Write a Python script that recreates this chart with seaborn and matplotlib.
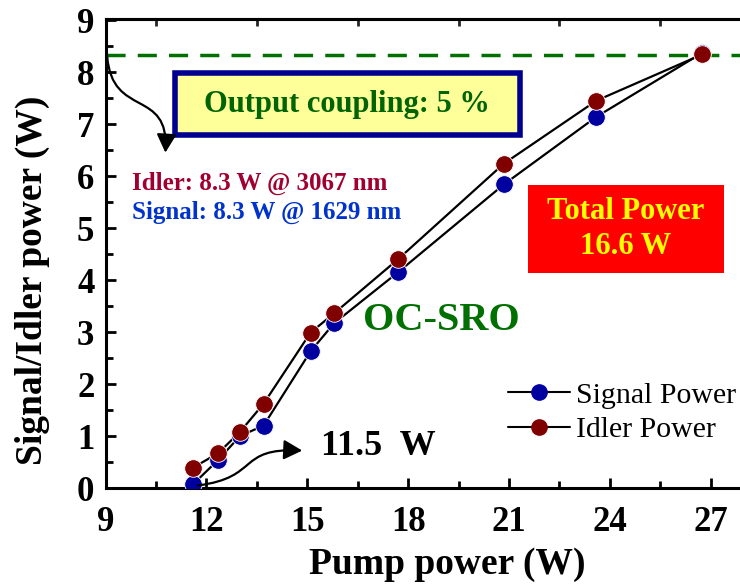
import matplotlib
matplotlib.use("Agg")
import matplotlib.pyplot as plt
import seaborn as sns
import pandas as pd
from matplotlib.lines import Line2D
from matplotlib.patches import Rectangle, FancyArrowPatch
from matplotlib.path import Path

pump = [11.6, 12.35, 13.0, 13.7, 15.1, 15.8, 17.7, 20.85, 23.6, 26.75]
signal = [0.07, 0.54, 1.0, 1.2, 2.63, 3.17, 4.15, 5.84, 7.14, 8.37]
idler = [0.39, 0.67, 1.08, 1.62, 2.99, 3.36, 4.40, 6.24, 7.45, 8.34]
series_names = ["Signal Power", "Idler Power"]
x_ticks = [9, 12, 15, 18, 21, 24, 27]
y_ticks = [0, 1, 2, 3, 4, 5, 6, 7, 8, 9]
coupling_level = 8.33

sns.set_theme(style="ticks")
plt.rcParams['font.family'] = ['Liberation Serif', 'DejaVu Serif']
plt.rcParams['text.color'] = 'black'

df = pd.DataFrame({
    "pump": pump + pump,
    "power": signal + idler,
    "series": [series_names[0]] * len(pump) + [series_names[1]] * len(pump),
})

fig = plt.figure(figsize=(7.4, 5.85), dpi=100)
ax = fig.add_axes([0.1426, 0.1658, 0.8574, 0.8017])

blue = "#0000a0"
red = "#800000"

sns.lineplot(data=df, x="pump", y="power", hue="series", palette=["black", "black"],
             ax=ax, legend=False, linewidth=1.6, sort=False)
for vals, col in [(signal, blue), (idler, red)]:
    sns.scatterplot(x=pump, y=vals, ax=ax, color=col, s=160, edgecolor="white",
                    linewidth=0.6, zorder=5)

ax.axhline(coupling_level, color="#007000", lw=2.5, ls=(0, (5.5, 3.5)), zorder=1)

ax.set_xlim(9, 27.87)
ax.set_ylim(0, 9.02)
ax.set_xticks(x_ticks)
ax.set_yticks(y_ticks)
ax.set_xticks([x + 1.5 for x in x_ticks[:-1]], minor=True)
ax.set_yticks([y + 0.5 for y in y_ticks[:-1]], minor=True)
ax.tick_params(which="both", direction="in", width=2, colors="black",
               labelsize=25, pad=8)
ax.tick_params(axis="x", which="major", pad=13)
ax.tick_params(which="major", length=7)
ax.tick_params(which="minor", length=5)
for lab in ax.get_xticklabels() + ax.get_yticklabels():
    lab.set_fontweight("bold")
for s in ["left", "bottom", "top"]:
    ax.spines[s].set_linewidth(2.2)
    ax.spines[s].set_color("black")
ax.spines["right"].set_visible(False)

sec = ax.secondary_xaxis("top")
sec.set_xticks([10.5, 13.5, 16.5, 19.5, 22.5, 25.5])
sec.tick_params(direction="in", length=5, width=2, labeltop=False)
sec.spines["top"].set_linewidth(2.2)

ax.set_xlabel("Pump power (W)", fontsize=27, fontweight="bold", color="black")
ax.xaxis.set_label_coords(0.538, -0.125)
ax.set_ylabel("Signal/Idler power (W)", fontsize=27, fontweight="bold", color="black")
ax.yaxis.set_label_coords(-0.087, 0.443)

# Output coupling box
ax.add_patch(Rectangle((11.07, 6.79), 21.33 - 11.07, 7.98 - 6.79, fc="#ffff99",
                       ec="#000090", lw=4, zorder=6))
ax.text(16.18, 7.38, "Output coupling: 5 %", color="#006400", fontsize=22,
        fontweight="bold", ha="center", va="center", zorder=7)
ax.text(9.8, 5.85, "Idler: 8.3 W @ 3067 nm", color="#a00030", fontsize=18,
        fontweight="bold", ha="left", va="center")
ax.text(9.8, 5.31, "Signal: 8.3 W @ 1629 nm", color="#0033cc", fontsize=18,
        fontweight="bold", ha="left", va="center")

# Total power box
ax.add_patch(Rectangle((21.56, 4.13), 27.39 - 21.56, 5.83 - 4.13, fc="#ff0000",
                       ec="none", zorder=6))
ax.text(24.48, 4.98, "Total Power\n16.6 W", color="#ffff00", fontsize=22,
        fontweight="bold", ha="center", va="center", linespacing=1.25, zorder=7)
ax.text(18.98, 3.23, "OC-SRO", color="#007000", fontsize=29, fontweight="bold",
        ha="center", va="center")
ax.text(15.4, 0.79, "11.5  W", color="black", fontsize=26, fontweight="bold",
        ha="left", va="center")

# curved arrows
for verts in [
    [(11.75, 0.05), (13.6, 0.2), (12.9, 0.78), (14.85, 0.72)],
    [(9.05, 8.3), (9.2, 7.1), (10.9, 7.7), (10.78, 6.45)],
]:
    p = Path(verts, [Path.MOVETO, Path.CURVE4, Path.CURVE4, Path.CURVE4])
    arr = FancyArrowPatch(path=p, arrowstyle="-|>,head_length=0.75,head_width=0.4",
                          mutation_scale=15, color="black", lw=1.6, zorder=6)
    ax.add_patch(arr)

handles = [Line2D([0], [0], color="black", lw=1.5, marker="o", markersize=11,
                  markerfacecolor=c, markeredgecolor=c)
           for c in [blue, red]]
leg = ax.legend(handles, series_names, loc="upper left",
                bbox_to_anchor=(0.634, 0.226), borderpad=0, borderaxespad=0,
                frameon=False, fontsize=21.5, handlelength=2.1, handletextpad=0.2,
                labelspacing=0.25)
for t in leg.get_texts():
    t.set_color("black")

fig.savefig("out.png", dpi=100)
